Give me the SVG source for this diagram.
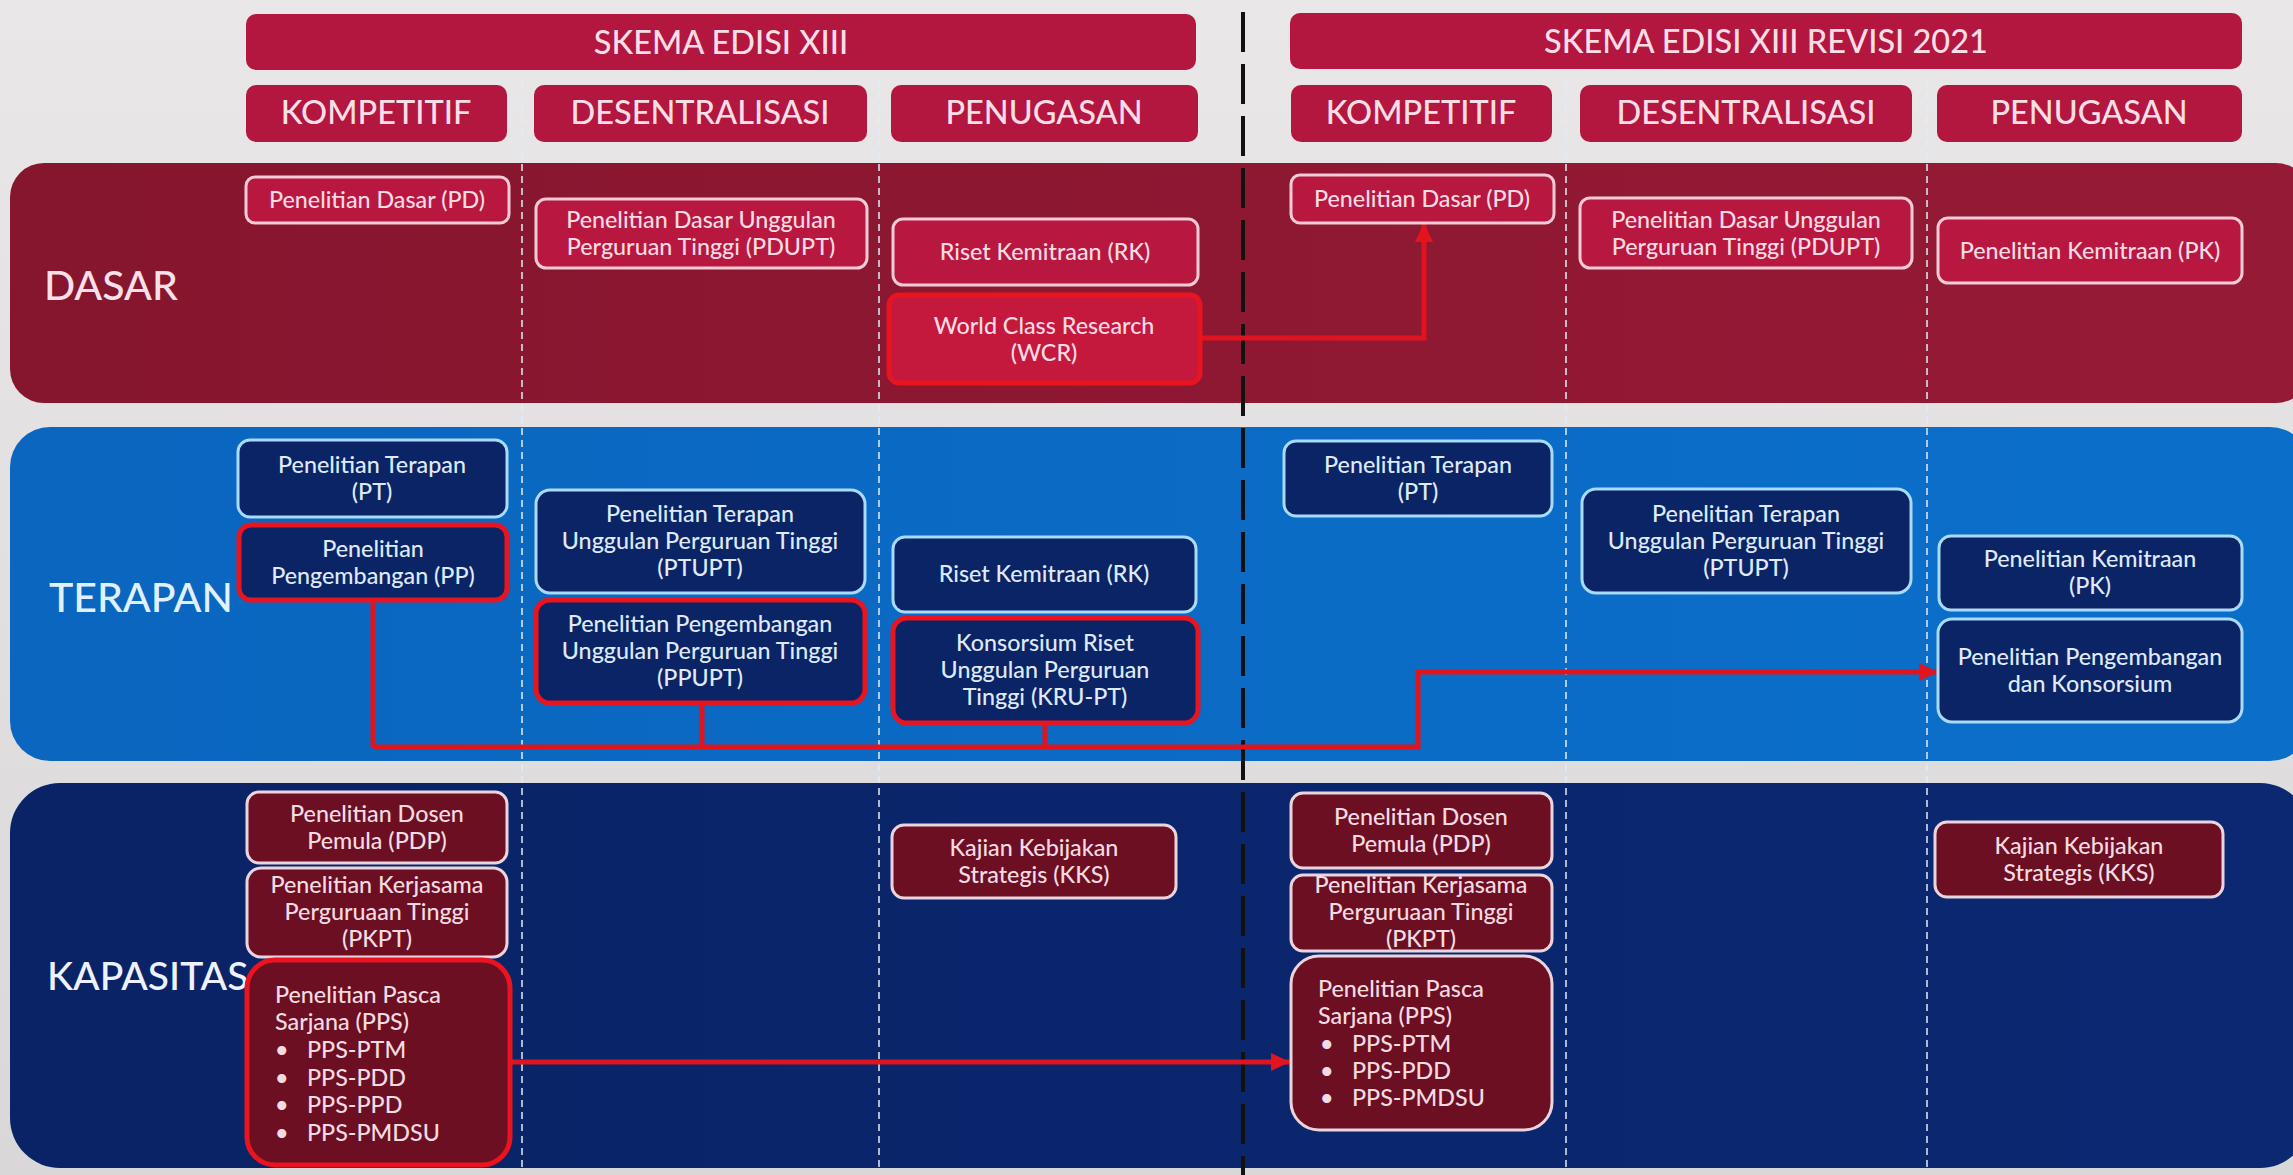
<svg xmlns="http://www.w3.org/2000/svg" width="2293" height="1175" viewBox="0 0 2293 1175">
<defs>
<linearGradient id="bg" x1="0" y1="0" x2="0" y2="1"><stop offset="0" stop-color="#e9e7e7"/><stop offset="1" stop-color="#d9d7d7"/></linearGradient>
<linearGradient id="gD" x1="0" y1="0" x2="1" y2="0"><stop offset="0" stop-color="#86152e"/><stop offset="1" stop-color="#951a36"/></linearGradient>
<linearGradient id="gT" x1="0" y1="0" x2="1" y2="0"><stop offset="0" stop-color="#0a66bf"/><stop offset="1" stop-color="#0b6fca"/></linearGradient>
<linearGradient id="gK" x1="0" y1="0" x2="1" y2="0"><stop offset="0" stop-color="#0a2366"/><stop offset="1" stop-color="#0b2872"/></linearGradient>
<marker id="ah" markerUnits="userSpaceOnUse" markerWidth="20" markerHeight="20" refX="18" refY="10" orient="auto" viewBox="0 0 20 20"><path d="M0,1 L19,10 L0,19 z" fill="#e4141e"/></marker>
<style>
text{font-family:Lato,"Open Sans","Liberation Sans",sans-serif;font-weight:500}
.hdr{fill:#b3163f}
.ht{fill:#f8dee6;font-size:32.5px;text-anchor:middle}
.st{fill:#f8dee6;font-size:32.5px;text-anchor:middle}
.rl{font-size:41px}
.nd rect{stroke-width:3}
.d rect{fill:#b8173f;stroke:#f2cbd6}
.d text{fill:#f8dbe3}
.t rect{fill:#0b2466;stroke:#a9daf7}
.t text{fill:#dfe9f7}
.k rect{fill:#6c0f22;stroke:#ead5df}
.k text{fill:#f4dbe2}
.nd text{font-size:23.3px;text-anchor:middle}
.nd text.l{text-anchor:start}
.hl rect{stroke:#e8141f;stroke-width:5}
.wcr rect{fill:#c5183d}
.col{stroke:#e4ecf8;stroke-width:2;stroke-dasharray:7 5;opacity:0.75}
.cn{fill:none;stroke:#e0141e;stroke-width:5}
</style>
</defs>
<rect width="2293" height="1175" fill="url(#bg)"/>

<g id="bands">
<rect x="10" y="163" width="2300" height="240" rx="34" fill="url(#gD)"/>
<rect x="10" y="427" width="2300" height="334" rx="40" fill="url(#gT)"/>
<rect x="10" y="783" width="2300" height="385" rx="50" fill="url(#gK)"/>
</g>

<g id="dividers">
<line class="col" x1="522" y1="80" x2="522" y2="1170"/>
<line class="col" x1="879" y1="80" x2="879" y2="1170"/>
<line class="col" x1="1566" y1="80" x2="1566" y2="1170"/>
<line class="col" x1="1927" y1="80" x2="1927" y2="1170"/>
<line x1="1243" y1="12" x2="1243" y2="1175" stroke="#111" stroke-width="4" stroke-dasharray="40 12"/>
</g>

<g id="headers">
<g id="h-skema"><rect class="hdr" x="246" y="14" width="950" height="56" rx="10"/><text class="ht" x="721" y="54">SKEMA EDISI XIII</text></g>
<g id="h-skema-rev"><rect class="hdr" x="1290" y="13" width="952" height="56" rx="10"/><text class="ht" x="1766" y="53">SKEMA EDISI XIII REVISI 2021</text></g>
<g id="h-komp-l"><rect class="hdr" x="246" y="85" width="261" height="57" rx="10"/><text class="st" x="376" y="124">KOMPETITIF</text></g>
<g id="h-des-l"><rect class="hdr" x="534" y="85" width="333" height="57" rx="10"/><text class="st" x="700" y="124">DESENTRALISASI</text></g>
<g id="h-pen-l"><rect class="hdr" x="891" y="85" width="307" height="57" rx="10"/><text class="st" x="1044" y="124">PENUGASAN</text></g>
<g id="h-komp-r"><rect class="hdr" x="1291" y="85" width="261" height="57" rx="10"/><text class="st" x="1421" y="124">KOMPETITIF</text></g>
<g id="h-des-r"><rect class="hdr" x="1580" y="85" width="332" height="57" rx="10"/><text class="st" x="1746" y="124">DESENTRALISASI</text></g>
<g id="h-pen-r"><rect class="hdr" x="1937" y="85" width="305" height="57" rx="10"/><text class="st" x="2089" y="124">PENUGASAN</text></g>
</g>

<g id="row-labels">
<text class="rl" x="44" y="300" fill="#f8e0e8">DASAR</text>
<text class="rl" x="49" y="612" fill="#e2f1ff">TERAPAN</text>
<text class="rl" x="47" y="990" fill="#eef2ff" style="font-size:39px">KAPASITAS</text>
</g>

<g id="connectors">
<path class="cn" d="M1200,338 H1424 V224" marker-end="url(#ah)"/>
<path class="cn" d="M373,600 V747 M702,703 V747 M1045,723 V747"/>
<path class="cn" d="M373,747 H1418 V672 H1937" marker-end="url(#ah)"/>
<path class="cn" d="M510,1062 H1289" marker-end="url(#ah)"/>
</g>

<g id="n-pd-l" class="nd d"><rect x="246" y="177" width="263" height="46" rx="9"/><text x="377" y="208">Penelitian Dasar (PD)</text></g>
<g id="n-pdupt-l" class="nd d"><rect x="536" y="199" width="331" height="69" rx="10"/><text x="701" y="228">Penelitian Dasar Unggulan</text><text x="701" y="255">Perguruan Tinggi (PDUPT)</text></g>
<g id="n-rk-dasar-l" class="nd d"><rect x="893" y="219" width="305" height="66" rx="10"/><text x="1045" y="260">Riset Kemitraan (RK)</text></g>
<g id="n-wcr" class="nd d hl wcr"><rect x="889" y="295" width="311" height="88" rx="10"/><text x="1044" y="334">World Class Research</text><text x="1044" y="361">(WCR)</text></g>

<g id="n-pd-r" class="nd d"><rect x="1291" y="175" width="263" height="48" rx="9"/><text x="1422" y="207">Penelitian Dasar (PD)</text></g>
<g id="n-pdupt-r" class="nd d"><rect x="1580" y="198" width="332" height="70" rx="10"/><text x="1746" y="228">Penelitian Dasar Unggulan</text><text x="1746" y="255">Perguruan Tinggi (PDUPT)</text></g>
<g id="n-pk-dasar-r" class="nd d"><rect x="1938" y="218" width="304" height="65" rx="10"/><text x="2090" y="259">Penelitian Kemitraan (PK)</text></g>

<g id="n-pt-l" class="nd t"><rect x="238" y="440" width="269" height="77" rx="12"/><text x="372" y="473">Penelitian Terapan</text><text x="372" y="500">(PT)</text></g>
<g id="n-pp-l" class="nd t hl"><rect x="239" y="525" width="268" height="75" rx="12"/><text x="373" y="557">Penelitian</text><text x="373" y="584">Pengembangan (PP)</text></g>
<g id="n-ptupt-l" class="nd t"><rect x="536" y="490" width="329" height="103" rx="14"/><text x="700" y="522">Penelitian Terapan</text><text x="700" y="549">Unggulan Perguruan Tinggi</text><text x="700" y="576">(PTUPT)</text></g>
<g id="n-ppupt-l" class="nd t hl"><rect x="536" y="600" width="329" height="103" rx="14"/><text x="700" y="632">Penelitian Pengembangan</text><text x="700" y="659">Unggulan Perguruan Tinggi</text><text x="700" y="686">(PPUPT)</text></g>
<g id="n-rk-terapan-l" class="nd t"><rect x="893" y="537" width="303" height="75" rx="12"/><text x="1044" y="582">Riset Kemitraan (RK)</text></g>
<g id="n-krupt-l" class="nd t hl"><rect x="893" y="618" width="305" height="105" rx="14"/><text x="1045" y="651">Konsorsium Riset</text><text x="1045" y="678">Unggulan Perguruan</text><text x="1045" y="705">Tinggi (KRU-PT)</text></g>

<g id="n-pt-r" class="nd t"><rect x="1284" y="441" width="268" height="75" rx="12"/><text x="1418" y="473">Penelitian Terapan</text><text x="1418" y="500">(PT)</text></g>
<g id="n-ptupt-r" class="nd t"><rect x="1582" y="489" width="329" height="104" rx="14"/><text x="1746" y="522">Penelitian Terapan</text><text x="1746" y="549">Unggulan Perguruan Tinggi</text><text x="1746" y="576">(PTUPT)</text></g>
<g id="n-pk-terapan-r" class="nd t"><rect x="1939" y="536" width="303" height="74" rx="12"/><text x="2090" y="567">Penelitian Kemitraan</text><text x="2090" y="594">(PK)</text></g>
<g id="n-ppk-r" class="nd t"><rect x="1938" y="619" width="304" height="103" rx="14"/><text x="2090" y="665">Penelitian Pengembangan</text><text x="2090" y="692">dan Konsorsium</text></g>

<g id="n-pdp-l" class="nd k"><rect x="247" y="792" width="260" height="71" rx="12"/><text x="377" y="822">Penelitian Dosen</text><text x="377" y="849">Pemula (PDP)</text></g>
<g id="n-pkpt-l" class="nd k"><rect x="247" y="868" width="260" height="89" rx="14"/><text x="377" y="893">Penelitian Kerjasama</text><text x="377" y="920">Perguruaan Tinggi</text><text x="377" y="947">(PKPT)</text></g>
<g id="n-pps-l" class="nd k hl"><rect x="247" y="960" width="263" height="205" rx="28"/><text class="l" x="275" y="1003">Penelitian Pasca</text><text class="l" x="275" y="1030">Sarjana (PPS)</text><text class="l" x="275" y="1058">•</text><text class="l" x="307" y="1058">PPS-PTM</text><text class="l" x="275" y="1086">•</text><text class="l" x="307" y="1086">PPS-PDD</text><text class="l" x="275" y="1113">•</text><text class="l" x="307" y="1113">PPS-PPD</text><text class="l" x="275" y="1141">•</text><text class="l" x="307" y="1141">PPS-PMDSU</text></g>
<g id="n-kks-l" class="nd k"><rect x="892" y="825" width="284" height="73" rx="12"/><text x="1034" y="856">Kajian Kebijakan</text><text x="1034" y="883">Strategis (KKS)</text></g>

<g id="n-pdp-r" class="nd k"><rect x="1291" y="793" width="261" height="75" rx="12"/><text x="1421" y="825">Penelitian Dosen</text><text x="1421" y="852">Pemula (PDP)</text></g>
<g id="n-pkpt-r" class="nd k"><rect x="1291" y="875" width="261" height="76" rx="12"/><text x="1421" y="893">Penelitian Kerjasama</text><text x="1421" y="920">Perguruaan Tinggi</text><text x="1421" y="947">(PKPT)</text></g>
<g id="n-pps-r" class="nd k"><rect x="1291" y="956" width="261" height="174" rx="28"/><text class="l" x="1318" y="997">Penelitian Pasca</text><text class="l" x="1318" y="1024">Sarjana (PPS)</text><text class="l" x="1320" y="1052">•</text><text class="l" x="1352" y="1052">PPS-PTM</text><text class="l" x="1320" y="1079">•</text><text class="l" x="1352" y="1079">PPS-PDD</text><text class="l" x="1320" y="1106">•</text><text class="l" x="1352" y="1106">PPS-PMDSU</text></g>
<g id="n-kks-r" class="nd k"><rect x="1935" y="822" width="288" height="75" rx="12"/><text x="2079" y="854">Kajian Kebijakan</text><text x="2079" y="881">Strategis (KKS)</text></g>
</svg>
